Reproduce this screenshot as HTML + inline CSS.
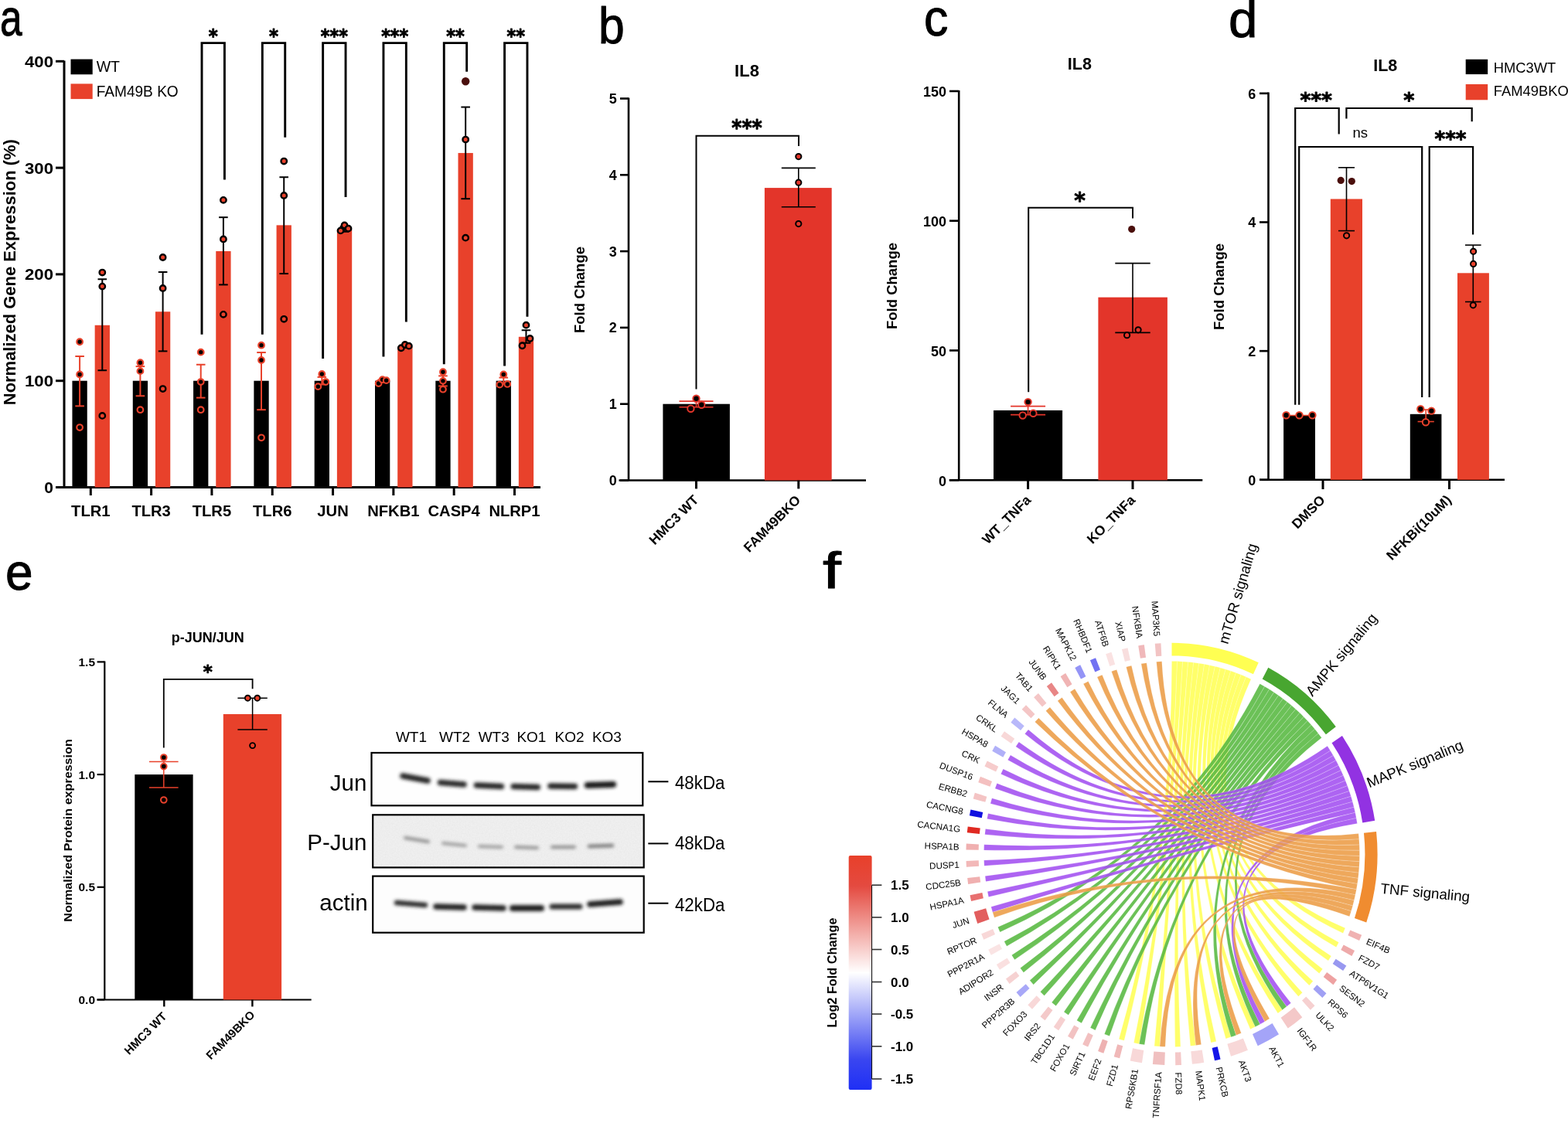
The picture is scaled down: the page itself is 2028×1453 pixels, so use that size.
<!DOCTYPE html>
<html><head><meta charset="utf-8"><title>Figure</title>
<style>html,body{margin:0;padding:0;background:#fff;}svg{display:block;}</style></head>
<body>
<svg width="2028" height="1453" viewBox="0 0 2028 1453" font-family='"Liberation Sans", Arial, Helvetica, sans-serif'>
<rect width="2028" height="1453" fill="#fff"/>
<g stroke="#000" stroke-width="1" stroke-linejoin="round">
<text x="0" y="0" font-size="66" transform="translate(0 45.5) scale(0.78 1)">a</text>
<text x="0" y="0" font-size="66" transform="translate(774 55.5) scale(0.92 1)">b</text>
<text x="0" y="0" font-size="66" transform="translate(1195 45.5) scale(0.95 1)">c</text>
<text x="0" y="0" font-size="66" transform="translate(1589 47.5) scale(1.02 1)">d</text>
<text x="0" y="0" font-size="66" transform="translate(7 762.5) scale(0.97 1)">e</text>
<text x="0" y="0" font-size="66" transform="translate(1064 761) scale(1.3 1)">f</text>
</g>
<line x1="83" y1="78.5" x2="83" y2="632" stroke="#000" stroke-width="3" stroke-linecap="butt"/>
<line x1="72" y1="630.5" x2="699" y2="630.5" stroke="#000" stroke-width="3" stroke-linecap="butt"/>
<line x1="72" y1="630.5" x2="83" y2="630.5" stroke="#000" stroke-width="3" stroke-linecap="butt"/>
<text x="69" y="638" font-size="21" text-anchor="end" font-weight="bold">0</text>
<line x1="72" y1="492.7" x2="83" y2="492.7" stroke="#000" stroke-width="3" stroke-linecap="butt"/>
<text x="69" y="500.2" font-size="21" text-anchor="end" font-weight="bold" textLength="37" lengthAdjust="spacingAndGlyphs">100</text>
<line x1="72" y1="354.9" x2="83" y2="354.9" stroke="#000" stroke-width="3" stroke-linecap="butt"/>
<text x="69" y="362.4" font-size="21" text-anchor="end" font-weight="bold" textLength="37" lengthAdjust="spacingAndGlyphs">200</text>
<line x1="72" y1="217.1" x2="83" y2="217.1" stroke="#000" stroke-width="3" stroke-linecap="butt"/>
<text x="69" y="224.6" font-size="21" text-anchor="end" font-weight="bold" textLength="37" lengthAdjust="spacingAndGlyphs">300</text>
<line x1="72" y1="79.3" x2="83" y2="79.3" stroke="#000" stroke-width="3" stroke-linecap="butt"/>
<text x="69" y="86.8" font-size="21" text-anchor="end" font-weight="bold" textLength="37" lengthAdjust="spacingAndGlyphs">400</text>
<text x="0" y="0" font-size="21.5" text-anchor="middle" font-weight="bold" textLength="344" lengthAdjust="spacingAndGlyphs" transform="translate(20 352.2) rotate(-90)">Normalized Gene Expression (%)</text>
<rect x="93.45" y="492.7" width="19.3" height="137.8" fill="#000"/>
<rect x="122.65" y="420.77" width="19.3" height="209.73" fill="#e8412b"/>
<line x1="117.3" y1="630.5" x2="117.3" y2="641" stroke="#000" stroke-width="3" stroke-linecap="butt"/>
<text x="117.3" y="667.5" font-size="20.2" text-anchor="middle" font-weight="bold">TLR1</text>
<line x1="103.1" y1="461.01" x2="103.1" y2="525.36" stroke="#e8412b" stroke-width="2" stroke-linecap="butt"/>
<line x1="97.3" y1="461.01" x2="108.9" y2="461.01" stroke="#e8412b" stroke-width="2" stroke-linecap="butt"/>
<line x1="97.3" y1="525.36" x2="108.9" y2="525.36" stroke="#e8412b" stroke-width="2" stroke-linecap="butt"/>
<line x1="132.3" y1="361.24" x2="132.3" y2="479.2" stroke="#000" stroke-width="2" stroke-linecap="butt"/>
<line x1="126.5" y1="361.24" x2="138.1" y2="361.24" stroke="#000" stroke-width="2" stroke-linecap="butt"/>
<line x1="126.5" y1="479.2" x2="138.1" y2="479.2" stroke="#000" stroke-width="2" stroke-linecap="butt"/>
<circle cx="103.1" cy="442.27" r="3.8" fill="#000" stroke="#e8412b" stroke-width="2.2"/>
<circle cx="103.1" cy="484.43" r="3.8" fill="#000" stroke="#e8412b" stroke-width="2.2"/>
<circle cx="103.1" cy="553.06" r="3.8" fill="#000" stroke="#e8412b" stroke-width="2.2"/>
<circle cx="132.3" cy="352.56" r="3.7" fill="#e8412b" stroke="#000" stroke-width="2.4"/>
<circle cx="132.3" cy="370.61" r="3.7" fill="#e8412b" stroke="#000" stroke-width="2.4"/>
<circle cx="132.3" cy="537.9" r="3.7" fill="#e8412b" stroke="#000" stroke-width="2.4"/>
<rect x="171.76" y="492.7" width="19.3" height="137.8" fill="#000"/>
<rect x="200.96" y="403.27" width="19.3" height="227.23" fill="#e8412b"/>
<line x1="195.61" y1="630.5" x2="195.61" y2="641" stroke="#000" stroke-width="3" stroke-linecap="butt"/>
<text x="195.61" y="667.5" font-size="20.2" text-anchor="middle" font-weight="bold">TLR3</text>
<line x1="181.41" y1="474.1" x2="181.41" y2="512.27" stroke="#e8412b" stroke-width="2" stroke-linecap="butt"/>
<line x1="175.61" y1="474.1" x2="187.21" y2="474.1" stroke="#e8412b" stroke-width="2" stroke-linecap="butt"/>
<line x1="175.61" y1="512.27" x2="187.21" y2="512.27" stroke="#e8412b" stroke-width="2" stroke-linecap="butt"/>
<line x1="210.61" y1="352.01" x2="210.61" y2="454.39" stroke="#000" stroke-width="2" stroke-linecap="butt"/>
<line x1="204.81" y1="352.01" x2="216.41" y2="352.01" stroke="#000" stroke-width="2" stroke-linecap="butt"/>
<line x1="204.81" y1="454.39" x2="216.41" y2="454.39" stroke="#000" stroke-width="2" stroke-linecap="butt"/>
<circle cx="181.41" cy="469.27" r="3.8" fill="#000" stroke="#e8412b" stroke-width="2.2"/>
<circle cx="181.41" cy="480.16" r="3.8" fill="#000" stroke="#e8412b" stroke-width="2.2"/>
<circle cx="181.41" cy="530.18" r="3.8" fill="#000" stroke="#e8412b" stroke-width="2.2"/>
<circle cx="210.61" cy="332.99" r="3.7" fill="#e8412b" stroke="#000" stroke-width="2.4"/>
<circle cx="210.61" cy="372.95" r="3.7" fill="#e8412b" stroke="#000" stroke-width="2.4"/>
<circle cx="210.61" cy="503.04" r="3.7" fill="#e8412b" stroke="#000" stroke-width="2.4"/>
<rect x="250.07" y="492.7" width="19.3" height="137.8" fill="#000"/>
<rect x="279.27" y="325" width="19.3" height="305.5" fill="#e8412b"/>
<line x1="273.92" y1="630.5" x2="273.92" y2="641" stroke="#000" stroke-width="3" stroke-linecap="butt"/>
<text x="273.92" y="667.5" font-size="20.2" text-anchor="middle" font-weight="bold">TLR5</text>
<line x1="259.72" y1="471.75" x2="259.72" y2="514.61" stroke="#e8412b" stroke-width="2" stroke-linecap="butt"/>
<line x1="253.92" y1="471.75" x2="265.52" y2="471.75" stroke="#e8412b" stroke-width="2" stroke-linecap="butt"/>
<line x1="253.92" y1="514.61" x2="265.52" y2="514.61" stroke="#e8412b" stroke-width="2" stroke-linecap="butt"/>
<line x1="288.92" y1="281.18" x2="288.92" y2="368.4" stroke="#000" stroke-width="2" stroke-linecap="butt"/>
<line x1="283.12" y1="281.18" x2="294.72" y2="281.18" stroke="#000" stroke-width="2" stroke-linecap="butt"/>
<line x1="283.12" y1="368.4" x2="294.72" y2="368.4" stroke="#000" stroke-width="2" stroke-linecap="butt"/>
<circle cx="259.72" cy="455.63" r="3.8" fill="#000" stroke="#e8412b" stroke-width="2.2"/>
<circle cx="259.72" cy="494.08" r="3.8" fill="#000" stroke="#e8412b" stroke-width="2.2"/>
<circle cx="259.72" cy="530.18" r="3.8" fill="#000" stroke="#e8412b" stroke-width="2.2"/>
<circle cx="288.92" cy="258.85" r="3.7" fill="#e8412b" stroke="#000" stroke-width="2.4"/>
<circle cx="288.92" cy="309.43" r="3.7" fill="#e8412b" stroke="#000" stroke-width="2.4"/>
<circle cx="288.92" cy="406.85" r="3.7" fill="#e8412b" stroke="#000" stroke-width="2.4"/>
<rect x="328.38" y="492.7" width="19.3" height="137.8" fill="#000"/>
<rect x="357.58" y="291.37" width="19.3" height="339.13" fill="#e8412b"/>
<line x1="352.23" y1="630.5" x2="352.23" y2="641" stroke="#000" stroke-width="3" stroke-linecap="butt"/>
<text x="352.23" y="667.5" font-size="20.2" text-anchor="middle" font-weight="bold">TLR6</text>
<line x1="338.03" y1="456.05" x2="338.03" y2="530.18" stroke="#e8412b" stroke-width="2" stroke-linecap="butt"/>
<line x1="332.23" y1="456.05" x2="343.83" y2="456.05" stroke="#e8412b" stroke-width="2" stroke-linecap="butt"/>
<line x1="332.23" y1="530.18" x2="343.83" y2="530.18" stroke="#e8412b" stroke-width="2" stroke-linecap="butt"/>
<line x1="367.23" y1="229.23" x2="367.23" y2="354.07" stroke="#000" stroke-width="2" stroke-linecap="butt"/>
<line x1="361.43" y1="229.23" x2="373.03" y2="229.23" stroke="#000" stroke-width="2" stroke-linecap="butt"/>
<line x1="361.43" y1="354.07" x2="373.03" y2="354.07" stroke="#000" stroke-width="2" stroke-linecap="butt"/>
<circle cx="338.03" cy="446.67" r="3.8" fill="#000" stroke="#e8412b" stroke-width="2.2"/>
<circle cx="338.03" cy="465.97" r="3.8" fill="#000" stroke="#e8412b" stroke-width="2.2"/>
<circle cx="338.03" cy="566.29" r="3.8" fill="#000" stroke="#e8412b" stroke-width="2.2"/>
<circle cx="367.23" cy="208.56" r="3.7" fill="#e8412b" stroke="#000" stroke-width="2.4"/>
<circle cx="367.23" cy="252.93" r="3.7" fill="#e8412b" stroke="#000" stroke-width="2.4"/>
<circle cx="367.23" cy="412.78" r="3.7" fill="#e8412b" stroke="#000" stroke-width="2.4"/>
<rect x="406.69" y="492.7" width="19.3" height="137.8" fill="#000"/>
<rect x="435.89" y="297.02" width="19.3" height="333.48" fill="#e8412b"/>
<line x1="430.54" y1="630.5" x2="430.54" y2="641" stroke="#000" stroke-width="3" stroke-linecap="butt"/>
<text x="430.54" y="667.5" font-size="20.2" text-anchor="middle" font-weight="bold">JUN</text>
<line x1="416.34" y1="487.88" x2="416.34" y2="497.52" stroke="#e8412b" stroke-width="2" stroke-linecap="butt"/>
<line x1="410.54" y1="487.88" x2="422.14" y2="487.88" stroke="#e8412b" stroke-width="2" stroke-linecap="butt"/>
<line x1="410.54" y1="497.52" x2="422.14" y2="497.52" stroke="#e8412b" stroke-width="2" stroke-linecap="butt"/>
<line x1="445.54" y1="292.89" x2="445.54" y2="299.78" stroke="#000" stroke-width="2" stroke-linecap="butt"/>
<line x1="439.74" y1="292.89" x2="451.34" y2="292.89" stroke="#000" stroke-width="2" stroke-linecap="butt"/>
<line x1="439.74" y1="299.78" x2="451.34" y2="299.78" stroke="#000" stroke-width="2" stroke-linecap="butt"/>
<circle cx="416.34" cy="484.02" r="3.8" fill="#000" stroke="#e8412b" stroke-width="2.2"/>
<circle cx="411.34" cy="500.14" r="3.8" fill="#000" stroke="#e8412b" stroke-width="2.2"/>
<circle cx="421.34" cy="494.08" r="3.8" fill="#000" stroke="#e8412b" stroke-width="2.2"/>
<circle cx="440.54" cy="298.4" r="3.7" fill="#e8412b" stroke="#000" stroke-width="2.4"/>
<circle cx="445.54" cy="291.51" r="3.7" fill="#e8412b" stroke="#000" stroke-width="2.4"/>
<circle cx="450.54" cy="295.65" r="3.7" fill="#e8412b" stroke="#000" stroke-width="2.4"/>
<rect x="485" y="492.7" width="19.3" height="137.8" fill="#000"/>
<rect x="514.2" y="448.6" width="19.3" height="181.9" fill="#e8412b"/>
<line x1="508.85" y1="630.5" x2="508.85" y2="641" stroke="#000" stroke-width="3" stroke-linecap="butt"/>
<text x="508.85" y="667.5" font-size="20.2" text-anchor="middle" font-weight="bold">NFKB1</text>
<line x1="494.65" y1="491.32" x2="494.65" y2="494.08" stroke="#e8412b" stroke-width="2" stroke-linecap="butt"/>
<line x1="488.85" y1="491.32" x2="500.45" y2="491.32" stroke="#e8412b" stroke-width="2" stroke-linecap="butt"/>
<line x1="488.85" y1="494.08" x2="500.45" y2="494.08" stroke="#e8412b" stroke-width="2" stroke-linecap="butt"/>
<line x1="523.85" y1="447.23" x2="523.85" y2="449.98" stroke="#000" stroke-width="2" stroke-linecap="butt"/>
<line x1="518.05" y1="447.23" x2="529.65" y2="447.23" stroke="#000" stroke-width="2" stroke-linecap="butt"/>
<line x1="518.05" y1="449.98" x2="529.65" y2="449.98" stroke="#000" stroke-width="2" stroke-linecap="butt"/>
<circle cx="489.65" cy="496.01" r="3.8" fill="#000" stroke="#e8412b" stroke-width="2.2"/>
<circle cx="494.65" cy="491.18" r="3.8" fill="#000" stroke="#e8412b" stroke-width="2.2"/>
<circle cx="499.65" cy="492.15" r="3.8" fill="#000" stroke="#e8412b" stroke-width="2.2"/>
<circle cx="518.85" cy="450.26" r="3.7" fill="#e8412b" stroke="#000" stroke-width="2.4"/>
<circle cx="523.85" cy="445.99" r="3.7" fill="#e8412b" stroke="#000" stroke-width="2.4"/>
<circle cx="528.85" cy="447.64" r="3.7" fill="#e8412b" stroke="#000" stroke-width="2.4"/>
<rect x="563.31" y="492.7" width="19.3" height="137.8" fill="#000"/>
<rect x="592.51" y="197.95" width="19.3" height="432.55" fill="#e8412b"/>
<line x1="587.16" y1="630.5" x2="587.16" y2="641" stroke="#000" stroke-width="3" stroke-linecap="butt"/>
<text x="587.16" y="667.5" font-size="20.2" text-anchor="middle" font-weight="bold">CASP4</text>
<line x1="572.96" y1="486.36" x2="572.96" y2="499.45" stroke="#e8412b" stroke-width="2" stroke-linecap="butt"/>
<line x1="567.16" y1="486.36" x2="578.76" y2="486.36" stroke="#e8412b" stroke-width="2" stroke-linecap="butt"/>
<line x1="567.16" y1="499.45" x2="578.76" y2="499.45" stroke="#e8412b" stroke-width="2" stroke-linecap="butt"/>
<line x1="602.16" y1="138.55" x2="602.16" y2="257.2" stroke="#000" stroke-width="2" stroke-linecap="butt"/>
<line x1="596.36" y1="138.55" x2="607.96" y2="138.55" stroke="#000" stroke-width="2" stroke-linecap="butt"/>
<line x1="596.36" y1="257.2" x2="607.96" y2="257.2" stroke="#000" stroke-width="2" stroke-linecap="butt"/>
<circle cx="572.96" cy="481.26" r="3.8" fill="#000" stroke="#e8412b" stroke-width="2.2"/>
<circle cx="572.96" cy="492.84" r="3.8" fill="#000" stroke="#e8412b" stroke-width="2.2"/>
<circle cx="572.96" cy="503.72" r="3.8" fill="#000" stroke="#e8412b" stroke-width="2.2"/>
<circle cx="602.16" cy="180.58" r="3.7" fill="#e8412b" stroke="#000" stroke-width="2.4"/>
<circle cx="602.16" cy="307.63" r="3.7" fill="#e8412b" stroke="#000" stroke-width="2.4"/>
<circle cx="602.16" cy="105.21" r="5.2" fill="#4a0f0c"/>
<rect x="641.62" y="492.7" width="19.3" height="137.8" fill="#000"/>
<rect x="670.82" y="435.79" width="19.3" height="194.71" fill="#e8412b"/>
<line x1="665.47" y1="630.5" x2="665.47" y2="641" stroke="#000" stroke-width="3" stroke-linecap="butt"/>
<text x="665.47" y="667.5" font-size="20.2" text-anchor="middle" font-weight="bold">NLRP1</text>
<line x1="651.27" y1="488.57" x2="651.27" y2="496.83" stroke="#e8412b" stroke-width="2" stroke-linecap="butt"/>
<line x1="645.47" y1="488.57" x2="657.07" y2="488.57" stroke="#e8412b" stroke-width="2" stroke-linecap="butt"/>
<line x1="645.47" y1="496.83" x2="657.07" y2="496.83" stroke="#e8412b" stroke-width="2" stroke-linecap="butt"/>
<line x1="680.47" y1="427.25" x2="680.47" y2="443.78" stroke="#000" stroke-width="2" stroke-linecap="butt"/>
<line x1="674.67" y1="427.25" x2="686.27" y2="427.25" stroke="#000" stroke-width="2" stroke-linecap="butt"/>
<line x1="674.67" y1="443.78" x2="686.27" y2="443.78" stroke="#000" stroke-width="2" stroke-linecap="butt"/>
<circle cx="651.27" cy="484.43" r="3.8" fill="#000" stroke="#e8412b" stroke-width="2.2"/>
<circle cx="646.27" cy="497.66" r="3.8" fill="#000" stroke="#e8412b" stroke-width="2.2"/>
<circle cx="656.27" cy="496.97" r="3.8" fill="#000" stroke="#e8412b" stroke-width="2.2"/>
<circle cx="680.47" cy="420.63" r="3.7" fill="#e8412b" stroke="#000" stroke-width="2.4"/>
<circle cx="675.47" cy="447.23" r="3.7" fill="#e8412b" stroke="#000" stroke-width="2.4"/>
<circle cx="685.47" cy="437.99" r="3.7" fill="#e8412b" stroke="#000" stroke-width="2.4"/>
<rect x="91.5" y="76.6" width="28.2" height="19.7" fill="#000"/>
<rect x="91.5" y="108.4" width="28.2" height="19.7" fill="#e8412b"/>
<text x="124.7" y="93.4" font-size="19.5">WT</text>
<text x="124.7" y="125.2" font-size="19.5" textLength="106" lengthAdjust="spacingAndGlyphs">FAM49B KO</text>
<polyline points="261.02,432.7 261.02,55.6 290.42,55.6 290.42,232.4" fill="none" stroke="#000" stroke-width="2.9" stroke-linejoin="miter"/>
<text x="275.72" y="55" font-size="24" font-family="DejaVu Sans, sans-serif" font-weight="bold" text-anchor="middle" stroke="#000" stroke-width="0.9" stroke-linejoin="round" textLength="12" lengthAdjust="spacingAndGlyphs">*</text>
<polyline points="339.33,432.7 339.33,55.6 368.73,55.6 368.73,177.7" fill="none" stroke="#000" stroke-width="2.9" stroke-linejoin="miter"/>
<text x="354.03" y="55" font-size="24" font-family="DejaVu Sans, sans-serif" font-weight="bold" text-anchor="middle" stroke="#000" stroke-width="0.9" stroke-linejoin="round" textLength="12" lengthAdjust="spacingAndGlyphs">*</text>
<polyline points="417.64,464 417.64,55.6 447.04,55.6 447.04,255" fill="none" stroke="#000" stroke-width="2.9" stroke-linejoin="miter"/>
<text x="432.34" y="55" font-size="24" font-family="DejaVu Sans, sans-serif" font-weight="bold" text-anchor="middle" stroke="#000" stroke-width="0.9" stroke-linejoin="round" textLength="35" lengthAdjust="spacingAndGlyphs">***</text>
<polyline points="495.95,461.6 495.95,55.6 525.35,55.6 525.35,416.6" fill="none" stroke="#000" stroke-width="2.9" stroke-linejoin="miter"/>
<text x="510.65" y="55" font-size="24" font-family="DejaVu Sans, sans-serif" font-weight="bold" text-anchor="middle" stroke="#000" stroke-width="0.9" stroke-linejoin="round" textLength="35" lengthAdjust="spacingAndGlyphs">***</text>
<polyline points="574.26,471.2 574.26,55.6 603.66,55.6 603.66,92.7" fill="none" stroke="#000" stroke-width="2.9" stroke-linejoin="miter"/>
<text x="588.96" y="55" font-size="24" font-family="DejaVu Sans, sans-serif" font-weight="bold" text-anchor="middle" stroke="#000" stroke-width="0.9" stroke-linejoin="round" textLength="23.5" lengthAdjust="spacingAndGlyphs">**</text>
<polyline points="652.57,473.6 652.57,55.6 681.97,55.6 681.97,409.8" fill="none" stroke="#000" stroke-width="2.9" stroke-linejoin="miter"/>
<text x="667.27" y="55" font-size="24" font-family="DejaVu Sans, sans-serif" font-weight="bold" text-anchor="middle" stroke="#000" stroke-width="0.9" stroke-linejoin="round" textLength="23.5" lengthAdjust="spacingAndGlyphs">**</text>
<line x1="813" y1="126.5" x2="813" y2="621.5" stroke="#000" stroke-width="2.6" stroke-linecap="butt"/>
<line x1="800.5" y1="621.5" x2="1120" y2="621.5" stroke="#000" stroke-width="2.6" stroke-linecap="butt"/>
<line x1="802" y1="621.5" x2="813" y2="621.5" stroke="#000" stroke-width="2.6" stroke-linecap="butt"/>
<text x="797.8" y="628" font-size="18" text-anchor="end" font-weight="bold">0</text>
<line x1="802" y1="522.7" x2="813" y2="522.7" stroke="#000" stroke-width="2.6" stroke-linecap="butt"/>
<text x="797.8" y="529.2" font-size="18" text-anchor="end" font-weight="bold">1</text>
<line x1="802" y1="423.9" x2="813" y2="423.9" stroke="#000" stroke-width="2.6" stroke-linecap="butt"/>
<text x="797.8" y="430.4" font-size="18" text-anchor="end" font-weight="bold">2</text>
<line x1="802" y1="325.1" x2="813" y2="325.1" stroke="#000" stroke-width="2.6" stroke-linecap="butt"/>
<text x="797.8" y="331.6" font-size="18" text-anchor="end" font-weight="bold">3</text>
<line x1="802" y1="226.3" x2="813" y2="226.3" stroke="#000" stroke-width="2.6" stroke-linecap="butt"/>
<text x="797.8" y="232.8" font-size="18" text-anchor="end" font-weight="bold">4</text>
<line x1="802" y1="127.5" x2="813" y2="127.5" stroke="#000" stroke-width="2.6" stroke-linecap="butt"/>
<text x="797.8" y="134" font-size="18" text-anchor="end" font-weight="bold">5</text>
<text x="966" y="99.2" font-size="22" text-anchor="middle" font-weight="bold">IL8</text>
<text x="0" y="0" font-size="18.5" text-anchor="middle" font-weight="bold" transform="translate(756 375) rotate(-90)">Fold Change</text>
<rect x="857.4" y="522.7" width="86.5" height="98.8" fill="#000"/>
<rect x="988.9" y="243.1" width="86.8" height="378.4" fill="#e3352a"/>
<line x1="900.5" y1="621.5" x2="900.5" y2="632.4" stroke="#000" stroke-width="3" stroke-linecap="butt"/>
<line x1="1032.8" y1="621.5" x2="1032.8" y2="632.4" stroke="#000" stroke-width="3" stroke-linecap="butt"/>
<line x1="1032.8" y1="217.41" x2="1032.8" y2="267.8" stroke="#000" stroke-width="1.6" stroke-linecap="butt"/>
<line x1="1010.8" y1="217.41" x2="1054.8" y2="217.41" stroke="#000" stroke-width="1.6" stroke-linecap="butt"/>
<line x1="1010.8" y1="267.8" x2="1054.8" y2="267.8" stroke="#000" stroke-width="1.6" stroke-linecap="butt"/>
<circle cx="1032.8" cy="202.59" r="3.6" fill="#e3352a" stroke="#000" stroke-width="2"/>
<circle cx="1032.8" cy="236.18" r="3.6" fill="#e3352a" stroke="#000" stroke-width="2"/>
<circle cx="1032.8" cy="289.53" r="3.6" fill="#e3352a" stroke="#000" stroke-width="2"/>
<line x1="900.5" y1="519.1" x2="900.5" y2="526.7" stroke="#e3352a" stroke-width="1.6" stroke-linecap="butt"/>
<line x1="878.5" y1="519.1" x2="922.5" y2="519.1" stroke="#e3352a" stroke-width="1.6" stroke-linecap="butt"/>
<line x1="878.5" y1="526.7" x2="922.5" y2="526.7" stroke="#e3352a" stroke-width="1.6" stroke-linecap="butt"/>
<circle cx="900.5" cy="515.7" r="4.2" fill="#000" stroke="#e3352a" stroke-width="2"/>
<circle cx="893.4" cy="528.8" r="4.2" fill="#000" stroke="#e3352a" stroke-width="2"/>
<circle cx="907.3" cy="523.8" r="4.2" fill="#000" stroke="#e3352a" stroke-width="2"/>
<polyline points="900.5,503.4 900.5,175.8 1033,175.8 1033,189" fill="none" stroke="#000" stroke-width="2" stroke-linejoin="miter"/>
<text x="966" y="174.8" font-size="27.5" font-family="DejaVu Sans, sans-serif" font-weight="bold" text-anchor="middle" stroke="#000" stroke-width="0.9" stroke-linejoin="round" textLength="39.5" lengthAdjust="spacingAndGlyphs">***</text>
<text x="904.5" y="648" font-size="17.5" text-anchor="end" font-weight="bold" transform="rotate(-45 904.5 648)">HMC3 WT</text>
<text x="1036.5" y="648" font-size="17.5" text-anchor="end" font-weight="bold" transform="rotate(-45 1036.5 648)">FAM49BKO</text>
<line x1="1240.2" y1="117" x2="1240.2" y2="621.2" stroke="#000" stroke-width="2.6" stroke-linecap="butt"/>
<line x1="1227.7" y1="621.2" x2="1555.3" y2="621.2" stroke="#000" stroke-width="2.6" stroke-linecap="butt"/>
<line x1="1228" y1="621.2" x2="1240.2" y2="621.2" stroke="#000" stroke-width="2.6" stroke-linecap="butt"/>
<text x="1224" y="628.7" font-size="18" text-anchor="end" font-weight="bold">0</text>
<line x1="1228" y1="453.45" x2="1240.2" y2="453.45" stroke="#000" stroke-width="2.6" stroke-linecap="butt"/>
<text x="1224" y="460.95" font-size="18" text-anchor="end" font-weight="bold">50</text>
<line x1="1228" y1="285.7" x2="1240.2" y2="285.7" stroke="#000" stroke-width="2.6" stroke-linecap="butt"/>
<text x="1224" y="293.2" font-size="18" text-anchor="end" font-weight="bold">100</text>
<line x1="1228" y1="117.95" x2="1240.2" y2="117.95" stroke="#000" stroke-width="2.6" stroke-linecap="butt"/>
<text x="1224" y="125.45" font-size="18" text-anchor="end" font-weight="bold">150</text>
<text x="1396.4" y="89.7" font-size="21.5" text-anchor="middle" font-weight="bold">IL8</text>
<text x="0" y="0" font-size="18.5" text-anchor="middle" font-weight="bold" transform="translate(1160 370) rotate(-90)">Fold Change</text>
<rect x="1285" y="530.95" width="89.1" height="90.25" fill="#000"/>
<rect x="1420.4" y="384.67" width="89.5" height="236.53" fill="#e3352a"/>
<line x1="1329.6" y1="621.2" x2="1329.6" y2="633" stroke="#000" stroke-width="3" stroke-linecap="butt"/>
<line x1="1465" y1="621.2" x2="1465" y2="633" stroke="#000" stroke-width="3" stroke-linecap="butt"/>
<line x1="1465" y1="340.6" x2="1465" y2="430.4" stroke="#000" stroke-width="1.6" stroke-linecap="butt"/>
<line x1="1442.3" y1="340.6" x2="1487.7" y2="340.6" stroke="#000" stroke-width="1.6" stroke-linecap="butt"/>
<line x1="1442.3" y1="430.4" x2="1487.7" y2="430.4" stroke="#000" stroke-width="1.6" stroke-linecap="butt"/>
<circle cx="1457.6" cy="433.7" r="3.6" fill="#e3352a" stroke="#000" stroke-width="2"/>
<circle cx="1472.1" cy="426.8" r="3.6" fill="#e3352a" stroke="#000" stroke-width="2"/>
<circle cx="1463.7" cy="296.6" r="4.6" fill="#4a0f0c"/>
<line x1="1329.6" y1="525.6" x2="1329.6" y2="536.6" stroke="#e3352a" stroke-width="1.6" stroke-linecap="butt"/>
<line x1="1307.1" y1="525.6" x2="1352.1" y2="525.6" stroke="#e3352a" stroke-width="1.6" stroke-linecap="butt"/>
<line x1="1307.1" y1="536.6" x2="1352.1" y2="536.6" stroke="#e3352a" stroke-width="1.6" stroke-linecap="butt"/>
<circle cx="1329.6" cy="520.1" r="4.2" fill="#000" stroke="#e3352a" stroke-width="2"/>
<circle cx="1322.7" cy="537.5" r="4.2" fill="#000" stroke="#e3352a" stroke-width="2"/>
<circle cx="1336.4" cy="534.7" r="4.2" fill="#000" stroke="#e3352a" stroke-width="2"/>
<polyline points="1330.2,507.2 1330.2,268.8 1465,268.8 1465,282.5" fill="none" stroke="#000" stroke-width="2" stroke-linejoin="miter"/>
<text x="1396.5" y="269" font-size="28" font-family="DejaVu Sans, sans-serif" font-weight="bold" text-anchor="middle" stroke="#000" stroke-width="0.9" stroke-linejoin="round">*</text>
<text x="1334.5" y="648" font-size="17.5" text-anchor="end" font-weight="bold" transform="rotate(-45 1334.5 648)">WT_TNFa</text>
<text x="1469.5" y="648" font-size="17.5" text-anchor="end" font-weight="bold" transform="rotate(-45 1469.5 648)">KO_TNFa</text>
<line x1="1640.5" y1="119.5" x2="1640.5" y2="620.8" stroke="#000" stroke-width="2.6" stroke-linecap="butt"/>
<line x1="1629" y1="620.8" x2="1946" y2="620.8" stroke="#000" stroke-width="2.6" stroke-linecap="butt"/>
<line x1="1629" y1="620.8" x2="1640.5" y2="620.8" stroke="#000" stroke-width="2.6" stroke-linecap="butt"/>
<text x="1624.2" y="627.8" font-size="18" text-anchor="end" font-weight="bold">0</text>
<line x1="1629" y1="454.14" x2="1640.5" y2="454.14" stroke="#000" stroke-width="2.6" stroke-linecap="butt"/>
<text x="1624.2" y="461.14" font-size="18" text-anchor="end" font-weight="bold">2</text>
<line x1="1629" y1="287.48" x2="1640.5" y2="287.48" stroke="#000" stroke-width="2.6" stroke-linecap="butt"/>
<text x="1624.2" y="294.48" font-size="18" text-anchor="end" font-weight="bold">4</text>
<line x1="1629" y1="120.82" x2="1640.5" y2="120.82" stroke="#000" stroke-width="2.6" stroke-linecap="butt"/>
<text x="1624.2" y="127.82" font-size="18" text-anchor="end" font-weight="bold">6</text>
<text x="1791.7" y="92.2" font-size="21.5" text-anchor="middle" font-weight="bold">IL8</text>
<text x="0" y="0" font-size="18.5" text-anchor="middle" font-weight="bold" transform="translate(1583 371) rotate(-90)">Fold Change</text>
<rect x="1660.1" y="537.47" width="40.9" height="83.33" fill="#000"/>
<rect x="1720.8" y="257.48" width="41.2" height="363.32" fill="#e8412b"/>
<rect x="1823.8" y="535.8" width="40.6" height="85" fill="#000"/>
<rect x="1885" y="353.31" width="40.9" height="267.49" fill="#e8412b"/>
<line x1="1711" y1="620.8" x2="1711" y2="633" stroke="#000" stroke-width="3" stroke-linecap="butt"/>
<line x1="1874.5" y1="620.8" x2="1874.5" y2="633" stroke="#000" stroke-width="3" stroke-linecap="butt"/>
<line x1="1741.5" y1="216.8" x2="1741.5" y2="298.6" stroke="#000" stroke-width="1.6" stroke-linecap="butt"/>
<line x1="1731" y1="216.8" x2="1752" y2="216.8" stroke="#000" stroke-width="1.6" stroke-linecap="butt"/>
<line x1="1731" y1="298.6" x2="1752" y2="298.6" stroke="#000" stroke-width="1.6" stroke-linecap="butt"/>
<circle cx="1734.2" cy="233.4" r="4.6" fill="#4a0f0c"/>
<circle cx="1748.3" cy="234.6" r="4.6" fill="#4a0f0c"/>
<circle cx="1741.6" cy="304.8" r="3.6" fill="#e8412b" stroke="#000" stroke-width="2"/>
<line x1="1905.3" y1="317.1" x2="1905.3" y2="390.5" stroke="#000" stroke-width="1.6" stroke-linecap="butt"/>
<line x1="1895" y1="317.1" x2="1915.6" y2="317.1" stroke="#000" stroke-width="1.6" stroke-linecap="butt"/>
<line x1="1895" y1="390.5" x2="1915.6" y2="390.5" stroke="#000" stroke-width="1.6" stroke-linecap="butt"/>
<circle cx="1905.6" cy="325.3" r="3.6" fill="#e8412b" stroke="#000" stroke-width="2"/>
<circle cx="1905.6" cy="341.4" r="3.6" fill="#e8412b" stroke="#000" stroke-width="2"/>
<circle cx="1905.3" cy="394.8" r="3.6" fill="#e8412b" stroke="#000" stroke-width="2"/>
<line x1="1663.5" y1="537.5" x2="1697.4" y2="537.5" stroke="#e8412b" stroke-width="1.6" stroke-linecap="butt"/>
<circle cx="1663.5" cy="537.2" r="4.2" fill="#000" stroke="#e8412b" stroke-width="2"/>
<circle cx="1680.5" cy="537.2" r="4.2" fill="#000" stroke="#e8412b" stroke-width="2"/>
<circle cx="1697.4" cy="537.2" r="4.2" fill="#000" stroke="#e8412b" stroke-width="2"/>
<line x1="1844.2" y1="530" x2="1844.2" y2="545.5" stroke="#e8412b" stroke-width="1.6" stroke-linecap="butt"/>
<line x1="1833.6" y1="530" x2="1854.8" y2="530" stroke="#e8412b" stroke-width="1.6" stroke-linecap="butt"/>
<line x1="1833.6" y1="545.5" x2="1854.8" y2="545.5" stroke="#e8412b" stroke-width="1.6" stroke-linecap="butt"/>
<circle cx="1837.3" cy="529.3" r="4.2" fill="#000" stroke="#e8412b" stroke-width="2"/>
<circle cx="1851.4" cy="531.6" r="4.2" fill="#000" stroke="#e8412b" stroke-width="2"/>
<circle cx="1844" cy="546.2" r="4.2" fill="#000" stroke="#e8412b" stroke-width="2"/>
<polyline points="1675.2,523.7 1675.2,140 1731.7,140 1731.7,173.4" fill="none" stroke="#000" stroke-width="2.2" stroke-linejoin="miter"/>
<polyline points="1741.4,153.6 1741.4,140 1903.7,140 1903.7,157.3" fill="none" stroke="#000" stroke-width="2.2" stroke-linejoin="miter"/>
<polyline points="1680.2,523.7 1680.2,190 1839.2,190 1839.2,514" fill="none" stroke="#000" stroke-width="2.2" stroke-linejoin="miter"/>
<polyline points="1848.7,514 1848.7,190 1905.1,190 1905.1,303.5" fill="none" stroke="#000" stroke-width="2.2" stroke-linejoin="miter"/>
<text x="1702.2" y="138.9" font-size="27" font-family="DejaVu Sans, sans-serif" font-weight="bold" text-anchor="middle" stroke="#000" stroke-width="0.9" stroke-linejoin="round" textLength="41.6" lengthAdjust="spacingAndGlyphs">***</text>
<text x="1822.2" y="138.9" font-size="27" font-family="DejaVu Sans, sans-serif" font-weight="bold" text-anchor="middle" stroke="#000" stroke-width="0.9" stroke-linejoin="round">*</text>
<text x="1876" y="188.5" font-size="27" font-family="DejaVu Sans, sans-serif" font-weight="bold" text-anchor="middle" stroke="#000" stroke-width="0.9" stroke-linejoin="round" textLength="41" lengthAdjust="spacingAndGlyphs">***</text>
<text x="1749.5" y="178.4" font-size="18.5">ns</text>
<rect x="1895.7" y="76.8" width="28.5" height="19.3" fill="#000"/>
<rect x="1895.7" y="109" width="28.5" height="20.3" fill="#e8412b"/>
<text x="1931.7" y="93.7" font-size="19" textLength="80.5" lengthAdjust="spacingAndGlyphs">HMC3WT</text>
<text x="1931.7" y="123.9" font-size="19" textLength="97" lengthAdjust="spacingAndGlyphs">FAM49BKO</text>
<text x="1715" y="648" font-size="17.5" text-anchor="end" font-weight="bold" transform="rotate(-45 1715 648)">DMSO</text>
<text x="1878" y="648" font-size="17.5" text-anchor="end" font-weight="bold" transform="rotate(-45 1878 648)">NFKBi(10uM)</text>
<line x1="135.3" y1="855.5" x2="135.3" y2="1293.5" stroke="#000" stroke-width="2.2" stroke-linecap="butt"/>
<line x1="125.5" y1="1293.5" x2="402.7" y2="1293.5" stroke="#000" stroke-width="2.2" stroke-linecap="butt"/>
<line x1="125.6" y1="1293.5" x2="135.3" y2="1293.5" stroke="#000" stroke-width="2.2" stroke-linecap="butt"/>
<text x="123" y="1299" font-size="15" text-anchor="end" font-weight="bold" textLength="21.5" lengthAdjust="spacingAndGlyphs">0.0</text>
<line x1="125.6" y1="1147.8" x2="135.3" y2="1147.8" stroke="#000" stroke-width="2.2" stroke-linecap="butt"/>
<text x="123" y="1153.3" font-size="15" text-anchor="end" font-weight="bold" textLength="21.5" lengthAdjust="spacingAndGlyphs">0.5</text>
<line x1="125.6" y1="1002.1" x2="135.3" y2="1002.1" stroke="#000" stroke-width="2.2" stroke-linecap="butt"/>
<text x="123" y="1007.6" font-size="15" text-anchor="end" font-weight="bold" textLength="21.5" lengthAdjust="spacingAndGlyphs">1.0</text>
<line x1="125.6" y1="856.4" x2="135.3" y2="856.4" stroke="#000" stroke-width="2.2" stroke-linecap="butt"/>
<text x="123" y="861.9" font-size="15" text-anchor="end" font-weight="bold" textLength="21.5" lengthAdjust="spacingAndGlyphs">1.5</text>
<text x="268.8" y="831.3" font-size="18" text-anchor="middle" font-weight="bold">p-JUN/JUN</text>
<text x="0" y="0" font-size="15" text-anchor="middle" font-weight="bold" textLength="236.5" lengthAdjust="spacingAndGlyphs" transform="translate(92.5 1074.5) rotate(-90)">Normalized Protein expression</text>
<rect x="174.3" y="1002.1" width="75.3" height="291.4" fill="#000"/>
<rect x="288.8" y="924" width="75.3" height="369.5" fill="#e8412b"/>
<line x1="212.3" y1="1293.5" x2="212.3" y2="1302.4" stroke="#000" stroke-width="2.4" stroke-linecap="butt"/>
<line x1="326.4" y1="1293.5" x2="326.4" y2="1302.4" stroke="#000" stroke-width="2.4" stroke-linecap="butt"/>
<line x1="326.6" y1="903.2" x2="326.6" y2="944" stroke="#000" stroke-width="1.5" stroke-linecap="butt"/>
<line x1="307.4" y1="903.2" x2="345.8" y2="903.2" stroke="#000" stroke-width="1.5" stroke-linecap="butt"/>
<line x1="307.4" y1="944" x2="345.8" y2="944" stroke="#000" stroke-width="1.5" stroke-linecap="butt"/>
<circle cx="320.4" cy="903.2" r="3.5" fill="#e8412b" stroke="#000" stroke-width="1.9"/>
<circle cx="332.8" cy="903.2" r="3.5" fill="#e8412b" stroke="#000" stroke-width="1.9"/>
<circle cx="326.6" cy="964.6" r="3.5" fill="#e8412b" stroke="#000" stroke-width="1.9"/>
<line x1="211.8" y1="985.4" x2="211.8" y2="1018.9" stroke="#e8412b" stroke-width="1.5" stroke-linecap="butt"/>
<line x1="193" y1="985.4" x2="230.6" y2="985.4" stroke="#e8412b" stroke-width="1.5" stroke-linecap="butt"/>
<line x1="193" y1="1018.9" x2="230.6" y2="1018.9" stroke="#e8412b" stroke-width="1.5" stroke-linecap="butt"/>
<circle cx="211.8" cy="980" r="3.8" fill="#000" stroke="#e8412b" stroke-width="2"/>
<circle cx="211.8" cy="991.6" r="3.8" fill="#000" stroke="#e8412b" stroke-width="2"/>
<circle cx="211.8" cy="1035" r="3.8" fill="#000" stroke="#e8412b" stroke-width="2"/>
<polyline points="211.8,967.6 211.8,878.9 326.6,878.9 326.6,891.3" fill="none" stroke="#000" stroke-width="1.8" stroke-linejoin="miter"/>
<text x="268.8" y="877.3" font-size="23" font-family="DejaVu Sans, sans-serif" font-weight="bold" text-anchor="middle" stroke="#000" stroke-width="0.9" stroke-linejoin="round">*</text>
<text x="216.5" y="1316" font-size="15" text-anchor="end" font-weight="bold" transform="rotate(-45 216.5 1316)">HMC3 WT</text>
<text x="330.5" y="1314" font-size="15" text-anchor="end" font-weight="bold" transform="rotate(-45 330.5 1314)">FAM49BKO</text>
<text x="532" y="960.2" font-size="19" text-anchor="middle">WT1</text>
<text x="588.1" y="960.2" font-size="19" text-anchor="middle">WT2</text>
<text x="638.7" y="960.2" font-size="19" text-anchor="middle">WT3</text>
<text x="687.4" y="960.2" font-size="19" text-anchor="middle">KO1</text>
<text x="736.5" y="960.2" font-size="19" text-anchor="middle">KO2</text>
<text x="784.9" y="960.2" font-size="19" text-anchor="middle">KO3</text>
<defs><filter id="blur1" filterUnits="userSpaceOnUse" x="400" y="900" width="500" height="400"><feGaussianBlur stdDeviation="1.9"/></filter><filter id="noise" x="0" y="0" width="1" height="1"><feTurbulence type="fractalNoise" baseFrequency="0.55" numOctaves="2" seed="3"/><feColorMatrix values="0 0 0 0 0.45  0 0 0 0 0.45  0 0 0 0 0.45  0 0 0 0.16 -0.02"/></filter></defs>
<rect x="480.5" y="974" width="350.8" height="68.3" fill="#fefefe" stroke="#000" stroke-width="2.2"/>
<rect x="482.2" y="1054.3" width="350.5" height="68.1" fill="#f1f1f1" stroke="#000" stroke-width="2.2"/>
<rect x="482.2" y="1133.6" width="350.5" height="73.1" fill="#fdfdfd" stroke="#000" stroke-width="2.2"/>
<rect x="483.5" y="1055.5" width="348" height="66" filter="url(#noise)"/>
<path d="M521 1004 L553 1010" stroke="#262626" stroke-width="7.5" stroke-linecap="round" filter="url(#blur1)"/>
<path d="M569.5 1012.5 L600 1015" stroke="#2a2a2a" stroke-width="7.5" stroke-linecap="round" filter="url(#blur1)"/>
<path d="M616.4 1016 L648.4 1017.5" stroke="#262626" stroke-width="7.5" stroke-linecap="round" filter="url(#blur1)"/>
<path d="M664.2 1017.5 L695.3 1018.5" stroke="#262626" stroke-width="7.5" stroke-linecap="round" filter="url(#blur1)"/>
<path d="M712 1017 L743.4 1017.5" stroke="#222" stroke-width="7.5" stroke-linecap="round" filter="url(#blur1)"/>
<path d="M759.8 1016 L793.1 1015" stroke="#161616" stroke-width="8" stroke-linecap="round" filter="url(#blur1)"/>
<path d="M524 1084 L554 1089" stroke="#8a8a8a" stroke-width="4" stroke-linecap="round" filter="url(#blur1)"/>
<path d="M573 1091 L602 1094" stroke="#999" stroke-width="4" stroke-linecap="round" filter="url(#blur1)"/>
<path d="M620 1095 L649 1096" stroke="#999" stroke-width="4" stroke-linecap="round" filter="url(#blur1)"/>
<path d="M667 1096 L695 1097" stroke="#8e8e8e" stroke-width="4" stroke-linecap="round" filter="url(#blur1)"/>
<path d="M714 1096 L743 1096" stroke="#888" stroke-width="4" stroke-linecap="round" filter="url(#blur1)"/>
<path d="M762 1095 L792 1094" stroke="#777" stroke-width="4.5" stroke-linecap="round" filter="url(#blur1)"/>
<path d="M513 1168 L550 1171" stroke="#2a2a2a" stroke-width="6.5" stroke-linecap="round" filter="url(#blur1)"/>
<path d="M564 1173 L600 1174" stroke="#222" stroke-width="7.5" stroke-linecap="round" filter="url(#blur1)"/>
<path d="M614 1174 L651 1175" stroke="#222" stroke-width="7.5" stroke-linecap="round" filter="url(#blur1)"/>
<path d="M663 1175 L700 1175" stroke="#1c1c1c" stroke-width="8" stroke-linecap="round" filter="url(#blur1)"/>
<path d="M714 1173 L750 1173" stroke="#2a2a2a" stroke-width="7" stroke-linecap="round" filter="url(#blur1)"/>
<path d="M763 1170 L802 1167" stroke="#1c1c1c" stroke-width="7.5" stroke-linecap="round" filter="url(#blur1)"/>
<text x="474.3" y="1022.6" font-size="29.5" text-anchor="end">Jun</text>
<text x="474.3" y="1099.9" font-size="29.5" text-anchor="end">P-Jun</text>
<text x="475.7" y="1178" font-size="29.5" text-anchor="end">actin</text>
<line x1="838.3" y1="1011.3" x2="864.4" y2="1011.3" stroke="#000" stroke-width="2" stroke-linecap="butt"/>
<text x="872.9" y="1021.2" font-size="23.5" textLength="64.6" lengthAdjust="spacingAndGlyphs">48kDa</text>
<line x1="838.3" y1="1091.4" x2="864.4" y2="1091.4" stroke="#000" stroke-width="2" stroke-linecap="butt"/>
<text x="872.9" y="1098.5" font-size="23.5" textLength="64.6" lengthAdjust="spacingAndGlyphs">48kDa</text>
<line x1="838.3" y1="1168.7" x2="864.4" y2="1168.7" stroke="#000" stroke-width="2" stroke-linecap="butt"/>
<text x="872.9" y="1178.6" font-size="23.5" textLength="64.6" lengthAdjust="spacingAndGlyphs">42kDa</text>
<g fill-opacity="0.88" stroke="#fff" stroke-width="0.5" stroke-opacity="0.35">
<path d="M1447.18 1344.43 A242.97 249.5 0 0 0 1453.98 1346.37 Q1515.5 1105 1522.56 855.61 A242.97 249.5 0 0 0 1515.5 855.5 Q1515.5 1105 1447.18 1344.43 Z" fill="#ffff55"/>
<path d="M1466.41 1349.35 A242.97 249.5 0 0 0 1473.34 1350.72 Q1515.5 1105 1529.6 855.92 A242.97 249.5 0 0 0 1522.56 855.61 Q1515.5 1105 1466.41 1349.35 Z" fill="#ffff55"/>
<path d="M1492.99 1353.43 A242.97 249.5 0 0 0 1500.02 1353.99 Q1515.5 1105 1536.64 856.45 A242.97 249.5 0 0 0 1529.6 855.92 Q1515.5 1105 1492.99 1353.43 Z" fill="#ffff55"/>
<path d="M1519.84 1354.46 A242.97 249.5 0 0 0 1526.89 1354.23 Q1515.5 1105 1543.66 857.18 A242.97 249.5 0 0 0 1536.64 856.45 Q1515.5 1105 1519.84 1354.46 Z" fill="#ffff55"/>
<path d="M1539.63 1353.27 A242.97 249.5 0 0 0 1546.64 1352.44 Q1515.5 1105 1550.66 858.13 A242.97 249.5 0 0 0 1543.66 857.18 Q1515.5 1105 1539.63 1353.27 Z" fill="#ffff55"/>
<path d="M1566.18 1349.01 A242.97 249.5 0 0 0 1573.06 1347.4 Q1515.5 1105 1557.62 859.28 A242.97 249.5 0 0 0 1550.66 858.13 Q1515.5 1105 1566.18 1349.01 Z" fill="#ffff55"/>
<path d="M1585.39 1343.96 A242.97 249.5 0 0 0 1592.11 1341.77 Q1515.5 1105 1564.56 860.64 A242.97 249.5 0 0 0 1557.62 859.28 Q1515.5 1105 1585.39 1343.96 Z" fill="#ffff55"/>
<path d="M1617.11 1331.64 A242.97 249.5 0 0 0 1623.47 1328.51 Q1515.5 1105 1571.44 862.2 A242.97 249.5 0 0 0 1564.56 860.64 Q1515.5 1105 1617.11 1331.64 Z" fill="#ffff55"/>
<path d="M1652.73 1310.9 A242.97 249.5 0 0 0 1658.49 1306.72 Q1515.5 1105 1578.29 863.97 A242.97 249.5 0 0 0 1571.44 862.2 Q1515.5 1105 1652.73 1310.9 Z" fill="#ffff55"/>
<path d="M1679.31 1289.27 A242.97 249.5 0 0 0 1684.45 1284.31 Q1515.5 1105 1585.08 865.95 A242.97 249.5 0 0 0 1578.29 863.97 Q1515.5 1105 1679.31 1289.27 Z" fill="#ffff55"/>
<path d="M1693.39 1274.94 A242.97 249.5 0 0 0 1698.12 1269.57 Q1515.5 1105 1591.81 868.12 A242.97 249.5 0 0 0 1585.08 865.95 Q1515.5 1105 1693.39 1274.94 Z" fill="#ffff55"/>
<path d="M1706.29 1259.48 A242.97 249.5 0 0 0 1710.58 1253.73 Q1515.5 1105 1598.47 870.5 A242.97 249.5 0 0 0 1591.81 868.12 Q1515.5 1105 1706.29 1259.48 Z" fill="#ffff55"/>
<path d="M1717.92 1243 A242.97 249.5 0 0 0 1721.74 1236.9 Q1515.5 1105 1605.07 873.07 A242.97 249.5 0 0 0 1598.47 870.5 Q1515.5 1105 1717.92 1243 Z" fill="#ffff55"/>
<path d="M1728.2 1225.59 A242.97 249.5 0 0 0 1731.52 1219.2 Q1515.5 1105 1611.59 875.84 A242.97 249.5 0 0 0 1605.07 873.07 Q1515.5 1105 1728.2 1225.59 Z" fill="#ffff55"/>
<path d="M1737.07 1207.39 A242.97 249.5 0 0 0 1739.87 1200.74 Q1515.5 1105 1618.03 878.8 A242.97 249.5 0 0 0 1611.59 875.84 Q1515.5 1105 1737.07 1207.39 Z" fill="#ffff55"/>
<path d="M1290.59 1199.4 A242.97 249.5 0 0 0 1293.36 1206.07 Q1515.5 1105 1635.65 888.14 A242.97 249.5 0 0 0 1629.46 884.65 Q1515.5 1105 1290.59 1199.4 Z" fill="#56b840"/>
<path d="M1298.83 1217.91 A242.97 249.5 0 0 0 1302.12 1224.33 Q1515.5 1105 1641.73 891.81 A242.97 249.5 0 0 0 1635.65 888.14 Q1515.5 1105 1298.83 1217.91 Z" fill="#56b840"/>
<path d="M1308.52 1235.68 A242.97 249.5 0 0 0 1312.3 1241.79 Q1515.5 1105 1647.7 895.67 A242.97 249.5 0 0 0 1641.73 891.81 Q1515.5 1105 1308.52 1235.68 Z" fill="#56b840"/>
<path d="M1319.58 1252.57 A242.97 249.5 0 0 0 1323.84 1258.35 Q1515.5 1105 1653.57 899.7 A242.97 249.5 0 0 0 1647.7 895.67 Q1515.5 1105 1319.58 1252.57 Z" fill="#56b840"/>
<path d="M1331.95 1268.48 A242.97 249.5 0 0 0 1336.65 1273.88 Q1515.5 1105 1659.31 903.9 A242.97 249.5 0 0 0 1653.57 899.7 Q1515.5 1105 1331.95 1268.48 Z" fill="#56b840"/>
<path d="M1345.54 1283.3 A242.97 249.5 0 0 0 1350.65 1288.29 Q1515.5 1105 1664.94 908.27 A242.97 249.5 0 0 0 1659.31 903.9 Q1515.5 1105 1345.54 1283.3 Z" fill="#56b840"/>
<path d="M1360.26 1296.93 A242.97 249.5 0 0 0 1365.75 1301.48 Q1515.5 1105 1670.44 912.81 A242.97 249.5 0 0 0 1664.94 908.27 Q1515.5 1105 1360.26 1296.93 Z" fill="#56b840"/>
<path d="M1376.01 1309.29 A242.97 249.5 0 0 0 1381.85 1313.36 Q1515.5 1105 1675.81 917.51 A242.97 249.5 0 0 0 1670.44 912.81 Q1515.5 1105 1376.01 1309.29 Z" fill="#56b840"/>
<path d="M1392.69 1320.29 A242.97 249.5 0 0 0 1398.83 1323.86 Q1515.5 1105 1681.04 922.37 A242.97 249.5 0 0 0 1675.81 917.51 Q1515.5 1105 1392.69 1320.29 Z" fill="#56b840"/>
<path d="M1410.19 1329.85 A242.97 249.5 0 0 0 1416.6 1332.89 Q1515.5 1105 1686.14 927.39 A242.97 249.5 0 0 0 1681.04 922.37 Q1515.5 1105 1410.19 1329.85 Z" fill="#56b840"/>
<path d="M1428.4 1337.92 A242.97 249.5 0 0 0 1435.02 1340.41 Q1515.5 1105 1691.09 932.55 A242.97 249.5 0 0 0 1686.14 927.39 Q1515.5 1105 1428.4 1337.92 Z" fill="#56b840"/>
<path d="M1473.34 1350.72 A242.97 249.5 0 0 0 1480.31 1351.87 Q1515.5 1105 1695.89 937.86 A242.97 249.5 0 0 0 1691.09 932.55 Q1515.5 1105 1473.34 1350.72 Z" fill="#56b840"/>
<path d="M1592.11 1341.77 A242.97 249.5 0 0 0 1598.78 1339.39 Q1515.5 1105 1700.54 943.31 A242.97 249.5 0 0 0 1695.89 937.86 Q1515.5 1105 1592.11 1341.77 Z" fill="#56b840"/>
<path d="M1623.47 1328.51 A242.97 249.5 0 0 0 1629.75 1325.2 Q1515.5 1105 1705.04 948.89 A242.97 249.5 0 0 0 1700.54 943.31 Q1515.5 1105 1623.47 1328.51 Z" fill="#56b840"/>
<path d="M1658.49 1306.72 A242.97 249.5 0 0 0 1664.14 1302.37 Q1515.5 1105 1709.37 954.61 A242.97 249.5 0 0 0 1705.04 948.89 Q1515.5 1105 1658.49 1306.72 Z" fill="#56b840"/>
<path d="M1329.97 943.89 A242.97 249.5 0 0 0 1325.5 949.49 Q1515.5 1105 1720.67 971.34 A242.97 249.5 0 0 0 1716.8 965.28 Q1515.5 1105 1329.97 943.89 Z" fill="#a24ef0"/>
<path d="M1317.8 959.96 A242.97 249.5 0 0 0 1313.78 965.91 Q1515.5 1105 1724.36 977.51 A242.97 249.5 0 0 0 1720.67 971.34 Q1515.5 1105 1317.8 959.96 Z" fill="#a24ef0"/>
<path d="M1306.95 976.99 A242.97 249.5 0 0 0 1303.41 983.26 Q1515.5 1105 1727.88 983.8 A242.97 249.5 0 0 0 1724.36 977.51 Q1515.5 1105 1306.95 976.99 Z" fill="#a24ef0"/>
<path d="M1297.48 994.88 A242.97 249.5 0 0 0 1294.46 1001.42 Q1515.5 1105 1731.21 990.18 A242.97 249.5 0 0 0 1727.88 983.8 Q1515.5 1105 1297.48 994.88 Z" fill="#a24ef0"/>
<path d="M1289.46 1013.49 A242.97 249.5 0 0 0 1286.97 1020.27 Q1515.5 1105 1734.37 996.66 A242.97 249.5 0 0 0 1731.21 990.18 Q1515.5 1105 1289.46 1013.49 Z" fill="#a24ef0"/>
<path d="M1282.95 1032.72 A242.97 249.5 0 0 0 1281 1039.68 Q1515.5 1105 1737.34 1003.23 A242.97 249.5 0 0 0 1734.37 996.66 Q1515.5 1105 1282.95 1032.72 Z" fill="#a24ef0"/>
<path d="M1277.98 1052.43 A242.97 249.5 0 0 0 1276.6 1059.53 Q1515.5 1105 1740.12 1009.89 A242.97 249.5 0 0 0 1737.34 1003.23 Q1515.5 1105 1277.98 1052.43 Z" fill="#a24ef0"/>
<path d="M1274.6 1072.49 A242.97 249.5 0 0 0 1273.78 1079.68 Q1515.5 1105 1742.72 1016.63 A242.97 249.5 0 0 0 1740.12 1009.89 Q1515.5 1105 1274.6 1072.49 Z" fill="#a24ef0"/>
<path d="M1272.82 1092.76 A242.97 249.5 0 0 0 1272.58 1100 Q1515.5 1105 1745.12 1023.44 A242.97 249.5 0 0 0 1742.72 1016.63 Q1515.5 1105 1272.82 1092.76 Z" fill="#a24ef0"/>
<path d="M1272.66 1113.12 A242.97 249.5 0 0 0 1272.99 1120.35 Q1515.5 1105 1747.33 1030.32 A242.97 249.5 0 0 0 1745.12 1023.44 Q1515.5 1105 1272.66 1113.12 Z" fill="#a24ef0"/>
<path d="M1274.11 1133.42 A242.97 249.5 0 0 0 1275.02 1140.6 Q1515.5 1105 1749.35 1037.27 A242.97 249.5 0 0 0 1747.33 1030.32 Q1515.5 1105 1274.11 1133.42 Z" fill="#a24ef0"/>
<path d="M1277.17 1153.53 A242.97 249.5 0 0 0 1278.64 1160.62 Q1515.5 1105 1751.16 1044.27 A242.97 249.5 0 0 0 1749.35 1037.27 Q1515.5 1105 1277.17 1153.53 Z" fill="#a24ef0"/>
<path d="M1281.82 1173.32 A242.97 249.5 0 0 0 1283.85 1180.26 Q1515.5 1105 1752.78 1051.32 A242.97 249.5 0 0 0 1751.16 1044.27 Q1515.5 1105 1281.82 1173.32 Z" fill="#a24ef0"/>
<path d="M1629.75 1325.2 A242.97 249.5 0 0 0 1635.93 1321.7 Q1515.5 1105 1754.2 1058.42 A242.97 249.5 0 0 0 1752.78 1051.32 Q1515.5 1105 1629.75 1325.2 Z" fill="#a24ef0"/>
<path d="M1664.14 1302.37 A242.97 249.5 0 0 0 1669.66 1297.85 Q1515.5 1105 1755.42 1065.56 A242.97 249.5 0 0 0 1754.2 1058.42 Q1515.5 1105 1664.14 1302.37 Z" fill="#a24ef0"/>
<path d="M1502.7 855.85 A242.97 249.5 0 0 0 1495.66 856.33 Q1515.5 1105 1757.75 1085.77 A242.97 249.5 0 0 0 1757.1 1078.56 Q1515.5 1105 1502.7 855.85 Z" fill="#ec9c45"/>
<path d="M1482.96 857.75 A242.97 249.5 0 0 0 1475.98 858.82 Q1515.5 1105 1758.19 1093 A242.97 249.5 0 0 0 1757.75 1085.77 Q1515.5 1105 1482.96 857.75 Z" fill="#ec9c45"/>
<path d="M1463.44 861.29 A242.97 249.5 0 0 0 1456.57 862.95 Q1515.5 1105 1758.43 1100.25 A242.97 249.5 0 0 0 1758.19 1093 Q1515.5 1105 1463.44 861.29 Z" fill="#ec9c45"/>
<path d="M1444.27 866.46 A242.97 249.5 0 0 0 1437.55 868.69 Q1515.5 1105 1758.46 1107.49 A242.97 249.5 0 0 0 1758.43 1100.25 Q1515.5 1105 1444.27 866.46 Z" fill="#ec9c45"/>
<path d="M1425.57 873.22 A242.97 249.5 0 0 0 1419.05 876 Q1515.5 1105 1758.29 1114.73 A242.97 249.5 0 0 0 1758.46 1107.49 Q1515.5 1105 1425.57 873.22 Z" fill="#ec9c45"/>
<path d="M1407.47 881.52 A242.97 249.5 0 0 0 1401.19 884.84 Q1515.5 1105 1757.91 1121.97 A242.97 249.5 0 0 0 1758.29 1114.73 Q1515.5 1105 1407.47 881.52 Z" fill="#ec9c45"/>
<path d="M1390.08 891.31 A242.97 249.5 0 0 0 1384.09 895.14 Q1515.5 1105 1757.33 1129.19 A242.97 249.5 0 0 0 1757.91 1121.97 Q1515.5 1105 1390.08 891.31 Z" fill="#ec9c45"/>
<path d="M1373.54 902.52 A242.97 249.5 0 0 0 1367.87 906.84 Q1515.5 1105 1756.54 1136.39 A242.97 249.5 0 0 0 1757.33 1129.19 Q1515.5 1105 1373.54 902.52 Z" fill="#ec9c45"/>
<path d="M1357.94 915.08 A242.97 249.5 0 0 0 1352.63 919.85 Q1515.5 1105 1755.55 1143.57 A242.97 249.5 0 0 0 1756.54 1136.39 Q1515.5 1105 1357.94 915.08 Z" fill="#ec9c45"/>
<path d="M1343.38 928.9 A242.97 249.5 0 0 0 1338.47 934.1 Q1515.5 1105 1754.36 1150.71 A242.97 249.5 0 0 0 1755.55 1143.57 Q1515.5 1105 1343.38 928.9 Z" fill="#ec9c45"/>
<path d="M1283.85 1180.26 A242.97 249.5 0 0 0 1286.07 1187.13 Q1515.5 1105 1752.97 1157.81 A242.97 249.5 0 0 0 1754.36 1150.71 Q1515.5 1105 1283.85 1180.26 Z" fill="#ec9c45"/>
<path d="M1500.02 1353.99 A242.97 249.5 0 0 0 1507.07 1354.35 Q1515.5 1105 1751.37 1164.87 A242.97 249.5 0 0 0 1752.97 1157.81 Q1515.5 1105 1500.02 1353.99 Z" fill="#ec9c45"/>
<path d="M1546.64 1352.44 A242.97 249.5 0 0 0 1553.63 1351.41 Q1515.5 1105 1749.58 1171.88 A242.97 249.5 0 0 0 1751.37 1164.87 Q1515.5 1105 1546.64 1352.44 Z" fill="#ec9c45"/>
<path d="M1598.78 1339.39 A242.97 249.5 0 0 0 1605.37 1336.81 Q1515.5 1105 1747.59 1178.83 A242.97 249.5 0 0 0 1749.58 1171.88 Q1515.5 1105 1598.78 1339.39 Z" fill="#ec9c45"/>
<path d="M1635.93 1321.7 A242.97 249.5 0 0 0 1642 1318.02 Q1515.5 1105 1745.4 1185.72 A242.97 249.5 0 0 0 1747.59 1178.83 Q1515.5 1105 1635.93 1321.7 Z" fill="#ec9c45"/>
</g>
<path d="M1501.48 832.18 A266.05 273.2 0 0 0 1493.77 832.71 L1495.09 849.26 A249.89 256.6 0 0 1 1502.33 848.76 Z" fill="#f2c4c4"/>
<text x="1497.02" y="823.14" font-size="11.6" text-anchor="end" transform="rotate(86.15 1497.02 823.14)" dominant-baseline="central">MAP3K5</text>
<path d="M1479.87 834.26 A266.05 273.2 0 0 0 1472.23 835.44 L1474.86 851.82 A249.89 256.6 0 0 1 1482.04 850.71 Z" fill="#f0b8ba"/>
<text x="1474.7" y="825.62" font-size="11.6" text-anchor="end" transform="rotate(81.47 1474.7 825.62)" dominant-baseline="central">NFKBIA</text>
<path d="M1458.5 838.14 A266.05 273.2 0 0 0 1450.97 839.96 L1454.9 856.06 A249.89 256.6 0 0 1 1461.96 854.36 Z" fill="#f8dede"/>
<text x="1452.66" y="829.97" font-size="11.6" text-anchor="end" transform="rotate(76.8 1452.66 829.97)" dominant-baseline="central">XIAP</text>
<path d="M1437.5 843.8 A266.05 273.2 0 0 0 1430.15 846.24 L1435.33 861.96 A249.89 256.6 0 0 1 1442.24 859.68 Z" fill="#fae2e2"/>
<text x="1431.04" y="836.14" font-size="11.6" text-anchor="end" transform="rotate(72.12 1431.04 836.14)" dominant-baseline="central">ATF6B</text>
<path d="M1417.03 851.2 A266.05 273.2 0 0 0 1409.89 854.25 L1416.31 869.48 A249.89 256.6 0 0 1 1423.01 866.62 Z" fill="#7272f2"/>
<text x="1409.97" y="844.11" font-size="11.6" text-anchor="end" transform="rotate(67.44 1409.97 844.11)" dominant-baseline="central">RHBDF1</text>
<path d="M1397.2 860.29 A266.05 273.2 0 0 0 1390.33 863.92 L1397.94 878.57 A249.89 256.6 0 0 1 1404.39 875.16 Z" fill="#9494f6"/>
<text x="1389.61" y="853.81" font-size="11.6" text-anchor="end" transform="rotate(62.77 1389.61 853.81)" dominant-baseline="central">MAPK12</text>
<path d="M1378.17 871.01 A266.05 273.2 0 0 0 1371.61 875.2 L1380.36 889.17 A249.89 256.6 0 0 1 1386.52 885.23 Z" fill="#f0b4b4"/>
<text x="1370.09" y="865.19" font-size="11.6" text-anchor="end" transform="rotate(58.09 1370.09 865.19)" dominant-baseline="central">RIPK1</text>
<path d="M1360.05 883.28 A266.05 273.2 0 0 0 1353.85 888.01 L1363.67 901.2 A249.89 256.6 0 0 1 1369.5 896.76 Z" fill="#e88686"/>
<text x="1351.54" y="878.16" font-size="11.6" text-anchor="end" transform="rotate(53.42 1351.54 878.16)" dominant-baseline="central">JUNB</text>
<path d="M1342.97 897.03 A266.05 273.2 0 0 0 1337.16 902.27 L1348 914.58 A249.89 256.6 0 0 1 1353.45 909.67 Z" fill="#f4c6c6"/>
<text x="1334.07" y="892.64" font-size="11.6" text-anchor="end" transform="rotate(48.74 1334.07 892.64)" dominant-baseline="central">TAB1</text>
<path d="M1327.03 912.17 A266.05 273.2 0 0 0 1321.66 917.87 L1333.44 929.24 A249.89 256.6 0 0 1 1338.48 923.89 Z" fill="#f4c6c6"/>
<text x="1317.82" y="908.53" font-size="11.6" text-anchor="end" transform="rotate(44.06 1317.82 908.53)" dominant-baseline="central">JAG1</text>
<path d="M1312.35 928.59 A266.05 273.2 0 0 0 1307.45 934.72 L1320.09 945.07 A249.89 256.6 0 0 1 1324.7 939.31 Z" fill="#b8b8fa"/>
<text x="1302.88" y="925.73" font-size="11.6" text-anchor="end" transform="rotate(39.39 1302.88 925.73)" dominant-baseline="central">FLNA</text>
<path d="M1299.02 946.18 A266.05 273.2 0 0 0 1294.62 952.7 L1308.04 961.96 A249.89 256.6 0 0 1 1312.18 955.83 Z" fill="#f8d8d8"/>
<text x="1289.35" y="944.13" font-size="11.6" text-anchor="end" transform="rotate(34.71 1289.35 944.13)" dominant-baseline="central">CRKL</text>
<path d="M1287.14 964.83 A266.05 273.2 0 0 0 1283.27 971.7 L1297.38 979.8 A249.89 256.6 0 0 1 1301.01 973.35 Z" fill="#b0b0f8"/>
<text x="1277.34" y="963.6" font-size="11.6" text-anchor="end" transform="rotate(30.04 1277.34 963.6)" dominant-baseline="central">HSPA8</text>
<path d="M1276.77 984.41 A266.05 273.2 0 0 0 1273.46 991.58 L1288.16 998.48 A249.89 256.6 0 0 1 1291.27 991.74 Z" fill="#f6cccc"/>
<text x="1266.9" y="984" font-size="11.6" text-anchor="end" transform="rotate(25.36 1266.9 984)" dominant-baseline="central">CRK</text>
<path d="M1267.99 1004.8 A266.05 273.2 0 0 0 1265.26 1012.22 L1280.46 1017.86 A249.89 256.6 0 0 1 1283.03 1010.89 Z" fill="#f4c0c0"/>
<text x="1258.13" y="1005.22" font-size="11.6" text-anchor="end" transform="rotate(20.68 1258.13 1005.22)" dominant-baseline="central">DUSP16</text>
<path d="M1260.86 1025.85 A266.05 273.2 0 0 0 1258.73 1033.48 L1274.33 1037.83 A249.89 256.6 0 0 1 1276.33 1030.66 Z" fill="#f4c4c4"/>
<text x="1251.06" y="1027.09" font-size="11.6" text-anchor="end" transform="rotate(16.01 1251.06 1027.09)" dominant-baseline="central">ERBB2</text>
<path d="M1255.42 1047.43 A266.05 273.2 0 0 0 1253.9 1055.21 L1269.8 1058.24 A249.89 256.6 0 0 1 1271.23 1050.93 Z" fill="#1010e0"/>
<text x="1245.76" y="1049.49" font-size="11.6" text-anchor="end" transform="rotate(11.33 1245.76 1049.49)" dominant-baseline="central">CACNG8</text>
<path d="M1251.72 1069.4 A266.05 273.2 0 0 0 1250.82 1077.28 L1266.9 1078.96 A249.89 256.6 0 0 1 1267.75 1071.56 Z" fill="#e02a22"/>
<text x="1242.25" y="1072.26" font-size="11.6" text-anchor="end" transform="rotate(6.66 1242.25 1072.26)" dominant-baseline="central">CACNA1G</text>
<path d="M1249.77 1091.6 A266.05 273.2 0 0 0 1249.5 1099.53 L1265.67 1099.86 A249.89 256.6 0 0 1 1265.92 1092.41 Z" fill="#f0b0b0"/>
<text x="1240.56" y="1095.24" font-size="11.6" text-anchor="end" transform="rotate(1.98 1240.56 1095.24)" dominant-baseline="central">HSPA1B</text>
<path d="M1249.59 1113.89 A266.05 273.2 0 0 0 1249.95 1121.81 L1266.09 1120.79 A249.89 256.6 0 0 1 1265.75 1113.35 Z" fill="#f2b8b8"/>
<text x="1240.7" y="1118.29" font-size="11.6" text-anchor="end" transform="rotate(-2.7 1240.7 1118.29)" dominant-baseline="central">DUSP1</text>
<path d="M1251.18 1136.12 A266.05 273.2 0 0 0 1252.17 1143.99 L1268.17 1141.62 A249.89 256.6 0 0 1 1267.24 1134.23 Z" fill="#f0b0b0"/>
<text x="1242.67" y="1141.25" font-size="11.6" text-anchor="end" transform="rotate(-7.37 1242.67 1141.25)" dominant-baseline="central">CDC25B</text>
<path d="M1254.53 1158.14 A266.05 273.2 0 0 0 1256.14 1165.9 L1271.9 1162.2 A249.89 256.6 0 0 1 1270.39 1154.91 Z" fill="#e87070"/>
<text x="1246.45" y="1163.97" font-size="11.6" text-anchor="end" transform="rotate(-12.05 1246.45 1163.97)" dominant-baseline="central">HSPA1A</text>
<path d="M1259.62 1179.81 A266.05 273.2 0 0 0 1264.28 1194.94 L1279.54 1189.47 A249.89 256.6 0 0 1 1275.17 1175.26 Z" fill="#e25e5e"/>
<text x="1253.21" y="1190.21" font-size="11.6" text-anchor="end" transform="rotate(-17.56 1253.21 1190.21)" dominant-baseline="central">JUN</text>
<path d="M1269.23 1208.37 A266.05 273.2 0 0 0 1272.25 1215.67 L1287.03 1208.94 A249.89 256.6 0 0 1 1284.19 1202.09 Z" fill="#f8d8d8"/>
<text x="1262.38" y="1215.67" font-size="11.6" text-anchor="end" transform="rotate(-23.06 1262.38 1215.67)" dominant-baseline="central">RPTOR</text>
<path d="M1278.25 1228.64 A266.05 273.2 0 0 0 1281.85 1235.66 L1296.05 1227.72 A249.89 256.6 0 0 1 1292.67 1221.13 Z" fill="#fae4e4"/>
<text x="1272.01" y="1236.49" font-size="11.6" text-anchor="end" transform="rotate(-27.74 1272.01 1236.49)" dominant-baseline="central">PPP2R1A</text>
<path d="M1288.86 1248.09 A266.05 273.2 0 0 0 1293 1254.79 L1306.52 1245.68 A249.89 256.6 0 0 1 1302.63 1239.39 Z" fill="#fae0e0"/>
<text x="1283.26" y="1256.44" font-size="11.6" text-anchor="end" transform="rotate(-32.42 1283.26 1256.44)" dominant-baseline="central">ADIPOR2</text>
<path d="M1300.97 1266.58 A266.05 273.2 0 0 0 1305.63 1272.91 L1318.38 1262.71 A249.89 256.6 0 0 1 1314.01 1256.77 Z" fill="#f6d2d2"/>
<text x="1296.06" y="1275.37" font-size="11.6" text-anchor="end" transform="rotate(-37.09 1296.06 1275.37)" dominant-baseline="central">INSR</text>
<path d="M1314.51 1284 A266.05 273.2 0 0 0 1319.66 1289.92 L1331.56 1278.69 A249.89 256.6 0 0 1 1326.73 1273.13 Z" fill="#a8a8f8"/>
<text x="1310.31" y="1293.18" font-size="11.6" text-anchor="end" transform="rotate(-41.77 1310.31 1293.18)" dominant-baseline="central">PPP2R3B</text>
<path d="M1329.39 1300.23 A266.05 273.2 0 0 0 1334.99 1305.7 L1345.96 1293.51 A249.89 256.6 0 0 1 1340.7 1288.37 Z" fill="#f8d8d8"/>
<text x="1325.93" y="1309.73" font-size="11.6" text-anchor="end" transform="rotate(-46.44 1325.93 1309.73)" dominant-baseline="central">FOXO3</text>
<path d="M1345.51 1315.16 A266.05 273.2 0 0 0 1351.53 1320.14 L1361.49 1307.07 A249.89 256.6 0 0 1 1355.84 1302.39 Z" fill="#f4caca"/>
<text x="1342.82" y="1324.92" font-size="11.6" text-anchor="end" transform="rotate(-51.12 1342.82 1324.92)" dominant-baseline="central">IRS2</text>
<path d="M1362.76 1328.69 A266.05 273.2 0 0 0 1369.15 1333.15 L1378.05 1319.29 A249.89 256.6 0 0 1 1372.04 1315.1 Z" fill="#f6d0d0"/>
<text x="1360.85" y="1338.64" font-size="11.6" text-anchor="end" transform="rotate(-55.8 1360.85 1338.64)" dominant-baseline="central">TBC1D1</text>
<path d="M1381.03 1340.74 A266.05 273.2 0 0 0 1387.75 1344.65 L1395.51 1330.08 A249.89 256.6 0 0 1 1389.2 1326.41 Z" fill="#f2c2c2"/>
<text x="1379.91" y="1350.81" font-size="11.6" text-anchor="end" transform="rotate(-60.47 1379.91 1350.81)" dominant-baseline="central">FOXO1</text>
<path d="M1400.19 1351.21 A266.05 273.2 0 0 0 1407.2 1354.54 L1413.78 1339.38 A249.89 256.6 0 0 1 1407.2 1336.25 Z" fill="#f2c0c0"/>
<text x="1399.88" y="1361.34" font-size="11.6" text-anchor="end" transform="rotate(-65.15 1399.88 1361.34)" dominant-baseline="central">SIRT1</text>
<path d="M1420.12 1360.04 A266.05 273.2 0 0 0 1427.37 1362.78 L1432.73 1347.11 A249.89 256.6 0 0 1 1425.92 1344.54 Z" fill="#eeb2b2"/>
<text x="1420.61" y="1370.17" font-size="11.6" text-anchor="end" transform="rotate(-69.82 1420.61 1370.17)" dominant-baseline="central">EEF2</text>
<path d="M1440.69 1367.18 A266.05 273.2 0 0 0 1448.13 1369.3 L1452.22 1353.24 A249.89 256.6 0 0 1 1445.23 1351.25 Z" fill="#f0b8b8"/>
<text x="1441.98" y="1377.23" font-size="11.6" text-anchor="end" transform="rotate(-74.5 1441.98 1377.23)" dominant-baseline="central">FZD1</text>
<path d="M1461.75 1372.57 A266.05 273.2 0 0 0 1476.97 1375.32 L1479.31 1358.89 A249.89 256.6 0 0 1 1465.01 1356.31 Z" fill="#f8d8d8"/>
<text x="1467.77" y="1383.22" font-size="11.6" text-anchor="end" transform="rotate(-80.01 1467.77 1383.22)" dominant-baseline="central">RPS6KB1</text>
<path d="M1490.85 1377.02 A266.05 273.2 0 0 0 1506.27 1378.04 L1506.83 1361.45 A249.89 256.6 0 0 1 1492.35 1360.5 Z" fill="#f0c0c0"/>
<text x="1497.98" y="1386.93" font-size="11.6" text-anchor="end" transform="rotate(-86.35 1497.98 1386.93)" dominant-baseline="central">TNFRSF1A</text>
<path d="M1520.25 1378.16 A266.05 273.2 0 0 0 1527.98 1377.9 L1527.22 1361.32 A249.89 256.6 0 0 1 1519.97 1361.56 Z" fill="#f4c8c8"/>
<text x="1524.41" y="1387.35" font-size="11.6" transform="rotate(-271.86 1524.41 1387.35)" dominant-baseline="central">FZD8</text>
<path d="M1541.92 1376.85 A266.05 273.2 0 0 0 1557.25 1374.82 L1554.71 1358.42 A249.89 256.6 0 0 1 1540.32 1360.33 Z" fill="#f8dada"/>
<text x="1550.76" y="1385.17" font-size="11.6" transform="rotate(-277.36 1550.76 1385.17)" dominant-baseline="central">MAPK1</text>
<path d="M1571 1372.19 A266.05 273.2 0 0 0 1578.53 1370.42 L1574.7 1354.3 A249.89 256.6 0 0 1 1567.62 1355.96 Z" fill="#1414e8"/>
<text x="1576.79" y="1380.4" font-size="11.6" transform="rotate(-282.87 1576.79 1380.4)" dominant-baseline="central">PRKCB</text>
<path d="M1592.02 1366.66 A266.05 273.2 0 0 0 1613.91 1358.82 L1607.93 1343.4 A249.89 256.6 0 0 1 1587.37 1350.76 Z" fill="#f8d8d8"/>
<text x="1606.03" y="1371.77" font-size="11.6" transform="rotate(-289.21 1606.03 1371.77)" dominant-baseline="central">AKT3</text>
<path d="M1626.76 1353.16 A266.05 273.2 0 0 0 1654.02 1338.25 L1645.6 1324.08 A249.89 256.6 0 0 1 1620 1338.09 Z" fill="#a4a4f8"/>
<text x="1644.86" y="1354.32" font-size="11.6" transform="rotate(-298.05 1644.86 1354.32)" dominant-baseline="central">AKT1</text>
<path d="M1665.76 1330.45 A266.05 273.2 0 0 0 1684.3 1316.17 L1674.04 1303.34 A249.89 256.6 0 0 1 1656.63 1316.75 Z" fill="#f4c8c8"/>
<text x="1680.62" y="1330.96" font-size="11.6" transform="rotate(-306.88 1680.62 1330.96)" dominant-baseline="central">IGF1R</text>
<path d="M1694.87 1306.77 A266.05 273.2 0 0 0 1700.5 1301.34 L1689.26 1289.41 A249.89 256.6 0 0 1 1683.97 1294.51 Z" fill="#f6d0d0"/>
<text x="1703.91" y="1310.85" font-size="11.6" transform="rotate(-313.22 1703.91 1310.85)" dominant-baseline="central">ULK2</text>
<path d="M1710.29 1291.08 A266.05 273.2 0 0 0 1715.47 1285.2 L1703.32 1274.25 A249.89 256.6 0 0 1 1698.46 1279.78 Z" fill="#a0a0f4"/>
<text x="1719.62" y="1294.4" font-size="11.6" transform="rotate(-317.9 1719.62 1294.4)" dominant-baseline="central">RPS6</text>
<path d="M1724.42 1274.16 A266.05 273.2 0 0 0 1729.11 1267.86 L1716.13 1257.96 A249.89 256.6 0 0 1 1711.72 1263.88 Z" fill="#eea2a2"/>
<text x="1733.98" y="1276.68" font-size="11.6" transform="rotate(-322.58 1733.98 1276.68)" dominant-baseline="central">SESN2</text>
<path d="M1737.15 1256.11 A266.05 273.2 0 0 0 1741.33 1249.43 L1727.61 1240.66 A249.89 256.6 0 0 1 1723.68 1246.93 Z" fill="#9898f0"/>
<text x="1746.88" y="1257.82" font-size="11.6" transform="rotate(-327.25 1746.88 1257.82)" dominant-baseline="central">ATP6V1G1</text>
<path d="M1748.41 1237.05 A266.05 273.2 0 0 0 1752.04 1230.05 L1737.67 1222.45 A249.89 256.6 0 0 1 1734.26 1229.03 Z" fill="#eeaaaa"/>
<text x="1758.24" y="1237.94" font-size="11.6" transform="rotate(-331.93 1758.24 1237.94)" dominant-baseline="central">FZD7</text>
<path d="M1758.12 1217.11 A266.05 273.2 0 0 0 1761.18 1209.83 L1746.26 1203.46 A249.89 256.6 0 0 1 1743.38 1210.3 Z" fill="#f0b2b2"/>
<text x="1767.99" y="1217.18" font-size="11.6" transform="rotate(-336.6 1767.99 1217.18)" dominant-baseline="central">EIF4B</text>
<path d="M1627.77 857.32 A266.05 273.2 0 0 0 1515.5 831.8 L1515.5 848.4 A249.89 256.6 0 0 1 1620.95 872.37 Z" fill="#ffff52"/>
<text x="1588.1" y="834.3" font-size="18.8" transform="rotate(-73.5 1588.1 834.3)">mTOR signaling</text>
<path d="M1727.79 940.33 A266.05 273.2 0 0 0 1640.29 863.72 L1632.71 878.38 A249.89 256.6 0 0 1 1714.89 950.33 Z" fill="#48a630"/>
<text x="1697.4" y="902.1" font-size="18.8" transform="rotate(-50.2 1697.4 902.1)">AMPK signaling</text>
<path d="M1778.21 1061.81 A266.05 273.2 0 0 0 1735.92 952.01 L1722.53 961.3 A249.89 256.6 0 0 1 1762.24 1064.43 Z" fill="#9232e2"/>
<text x="1771.1" y="1019.6" font-size="18.8" transform="rotate(-22.5 1771.1 1019.6)">MAPK signaling</text>
<path d="M1767.24 1193.39 A266.05 273.2 0 0 0 1780.05 1076.04 L1763.98 1077.8 A249.89 256.6 0 0 1 1751.95 1188.02 Z" fill="#f08c30"/>
<text x="1785.1" y="1155.7" font-size="18.8" transform="rotate(5.5 1785.1 1155.7)">TNF signaling</text>
<defs><linearGradient id="cb" x1="0" y1="0" x2="0" y2="1"><stop offset="0" stop-color="#e8402a"/><stop offset="0.13" stop-color="#e44a40"/><stop offset="0.5" stop-color="#ffffff"/><stop offset="0.87" stop-color="#3a46f0"/><stop offset="1" stop-color="#1f2ff5"/></linearGradient></defs>
<rect x="1097.7" y="1107" width="29.9" height="303" rx="2" fill="url(#cb)"/>
<line x1="1127.6" y1="1145.2" x2="1127.6" y2="1396" stroke="#000" stroke-width="1" stroke-linecap="butt"/>
<line x1="1127.6" y1="1145.2" x2="1140.4" y2="1145.2" stroke="#333" stroke-width="1.6" stroke-linecap="butt"/>
<text x="1152" y="1151.2" font-size="17" font-weight="bold">1.5</text>
<line x1="1127.6" y1="1186.9" x2="1140.4" y2="1186.9" stroke="#333" stroke-width="1.6" stroke-linecap="butt"/>
<text x="1152" y="1192.9" font-size="17" font-weight="bold">1.0</text>
<line x1="1127.6" y1="1228.5" x2="1140.4" y2="1228.5" stroke="#333" stroke-width="1.6" stroke-linecap="butt"/>
<text x="1152" y="1234.5" font-size="17" font-weight="bold">0.5</text>
<line x1="1127.6" y1="1270.5" x2="1140.4" y2="1270.5" stroke="#333" stroke-width="1.6" stroke-linecap="butt"/>
<text x="1152" y="1276.5" font-size="17" font-weight="bold">0.0</text>
<line x1="1127.6" y1="1312" x2="1140.4" y2="1312" stroke="#333" stroke-width="1.6" stroke-linecap="butt"/>
<text x="1152" y="1318" font-size="17" font-weight="bold">-0.5</text>
<line x1="1127.6" y1="1353.8" x2="1140.4" y2="1353.8" stroke="#333" stroke-width="1.6" stroke-linecap="butt"/>
<text x="1152" y="1359.8" font-size="17" font-weight="bold">-1.0</text>
<line x1="1127.6" y1="1396" x2="1140.4" y2="1396" stroke="#333" stroke-width="1.6" stroke-linecap="butt"/>
<text x="1152" y="1402" font-size="17" font-weight="bold">-1.5</text>
<text x="0" y="0" font-size="16.3" text-anchor="middle" font-weight="bold" transform="translate(1082 1258.5) rotate(-90)">Log2 Fold Change</text>
</svg>
</body></html>
